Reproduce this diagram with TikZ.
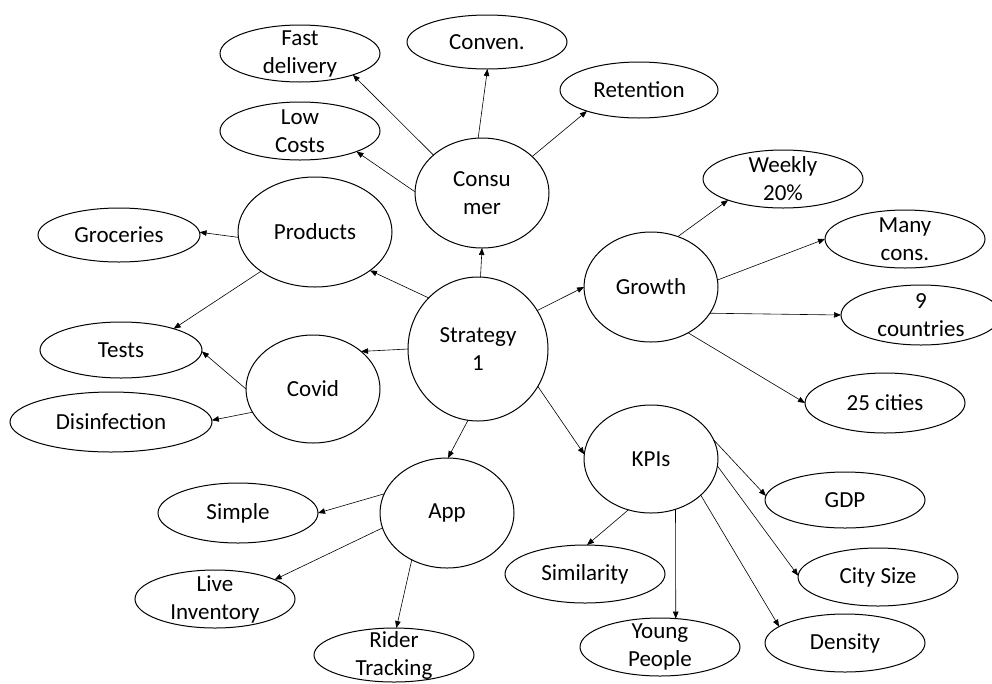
\documentclass[tikz,border=0pt]{standalone}
\usepackage{fontspec}
\setmainfont{Carlito}
\usetikzlibrary{shapes.geometric,arrows.meta}

\begin{document}
\begin{tikzpicture}[x=1pt,y=-1pt,
  bub/.style 2 args={ellipse, draw=black, line width=1pt, inner sep=0pt, outer sep=0pt,
    minimum width=#1pt, minimum height=#2pt},
  every label/.style={align=center, inner sep=0pt, font=\fontsize{23}{28}\selectfont},
  link/.style={line width=0.6pt, -{Triangle[length=7pt,width=5.5pt]}}
]
\clip (0,0) rectangle (992,683);
\useasboundingbox (0,0) rectangle (992,683);

% central topic
\node[bub={140}{144}, label=center:{Strategy\\1}] (strat) at (478,349) {};

% main branches
\node[bub={134}{110}, label=center:{Consu\\mer}] (cons) at (482,193) {};
\node[bub={154}{110}, label=center:{Products}] (prod) at (315,232) {};
\node[bub={134}{108}, label=center:{Covid}] (covid) at (313,389) {};
\node[bub={134}{110}, label=center:{Growth}] (growth) at (651,287) {};
\node[bub={134}{108}, label=center:{KPIs}] (kpis) at (651,459) {};
\node[bub={134}{110}, label=center:{App}] (app) at (447,513) {};

% consumer leaves
\node[bub={160}{57}, label=center:{Fast\\delivery}] (fast) at (300,53.5) {};
\node[bub={160}{54}, label=center:{Conven.}] (conv) at (487,42) {};
\node[bub={158}{56}, label=center:{Retention}] (ret) at (639,90) {};
\node[bub={160}{58}, label=center:{Low\\Costs}] (low) at (300,131) {};

% products and covid leaves
\node[bub={162}{54}, label=center:{Groceries}] (groc) at (119,235) {};
\node[bub={162}{56}, label=center:{Tests}] (tests) at (121,350) {};
\node[bub={202}{60}, label=center:{Disinfection}] (disinf) at (111,422) {};

% growth leaves
\node[bub={160}{58}, label=center:{Weekly\\20\%}] (weekly) at (783,179) {};
\node[bub={160}{58}, label=center:{Many\\cons.}] (many) at (905,239) {};
\node[bub={160}{60}, label=center:{9\\countries}] (nine) at (921,315) {};
\node[bub={160}{60}, label=center:{25 cities}] (cities) at (885,403) {};

% kpi leaves
\node[bub={160}{56}, label=center:{GDP}] (gdp) at (845,500) {};
\node[bub={160}{58}, label=center:{City Size}] (city) at (878,577) {};
\node[bub={160}{58}, label=center:{Similarity}] (simil) at (585,574) {};
\node[bub={160}{58}, label=center:{Young\\People}] (young) at (660,647) {};
\node[bub={160}{58}, label=center:{Density}] (dens) at (845,643) {};

% app leaves
\node[bub={160}{60}, label=center:{Simple}] (simple) at (238,513) {};
\node[bub={160}{58}, label=center:{Live\\Inventory}] (live) at (215,599) {};
\node[bub={160}{54}, label=center:{Rider\\Tracking}] (rider) at (394,655) {};

% connectors from the centre
\draw[link] (strat.88.4) -- (cons.-90);
\draw[link] (strat.134.4) -- (prod.-35.7);
\draw[link] (strat.180) -- (covid.38.5);
\draw[link] (strat.33.5) -- (growth.180);
\draw[link] (strat.-32.1) -- (kpis.176.5);
\draw[link] (strat.-98.8) -- (app.89);

% consumer
\draw[link] (cons.142.2) -- (fast.-22.1);
\draw[link] (cons.94.2) -- (conv.-89);
\draw[link] (cons.36.7) -- (ret.-158.6);
\draw[link] (cons.179) -- (low.-20.8);

% products, covid
\draw[link] (prod.184.4) -- (groc.2.9);
\draw[link] (prod.216.4) -- (tests.22);
\draw[link] (covid.180.9) -- (tests.-1.5);
\draw[link] (covid.201.8) -- (disinf.1.7);

% growth
\draw[link] (growth.62.6) -- (weekly.201.1);
\draw[link] (growth.6.2) -- (many.180);
\draw[link] (growth.-24.3) -- (nine.180);
\draw[link] (growth.-51.2) -- (cities.180);

% kpis
\draw[link] (kpis.17.6) -- (gdp.177.9);
\draw[link] (kpis.-6.8) -- (city.179.3);
\draw[link] (kpis.-36.2) -- (dens.166.9);
\draw[link] (kpis.-64.3) -- (young.61.9);
\draw[link] (kpis.-114.4) -- (simil.86);

% app
\draw[link] (app.163.5) -- (simple.0);
\draw[link] (app.193.6) -- (live.18.4);
\draw[link] (app.233.7) -- (rider.85.8);
\end{tikzpicture}
\end{document}
